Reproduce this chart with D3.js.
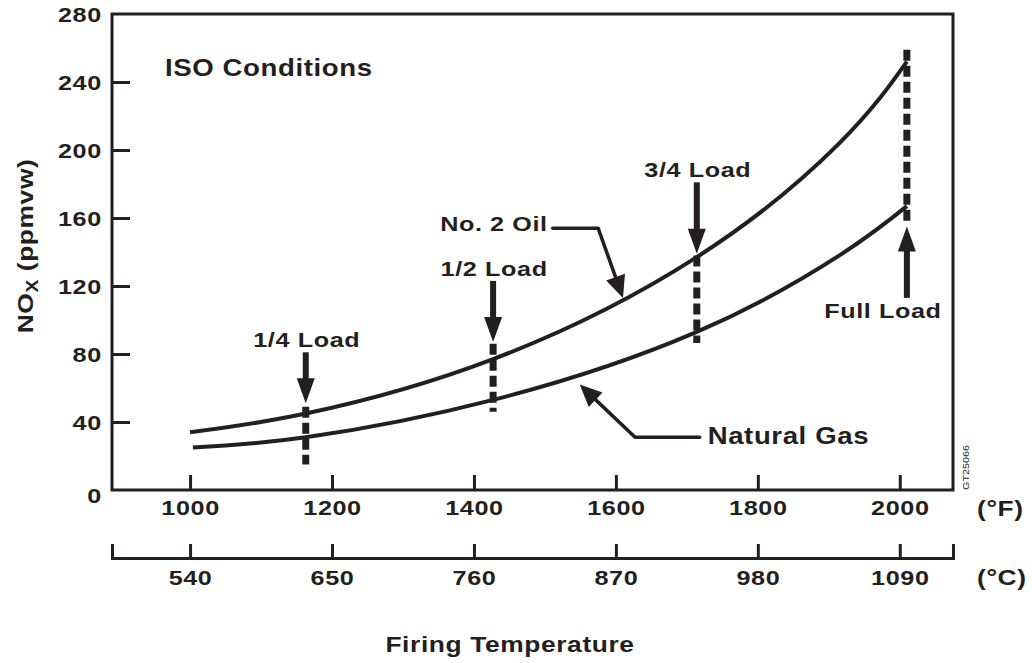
<!DOCTYPE html>
<html>
<head>
<meta charset="utf-8">
<script src="https://cdn.jsdelivr.net/npm/d3@7"></script>
<style>
  html, body { margin: 0; padding: 0; background: #fff; }
  svg { display: block; }
  text { font-family: "Liberation Sans", Arial, Helvetica, sans-serif; font-weight: bold; fill: #231f20; }
</style>
</head>
<body>
<svg id="chart" width="1032" height="663"></svg>
<script>
// NOx emissions vs. firing temperature, ISO conditions
const oilTempF   = [1000, 1163, 1427, 1714, 1915, 2010];
const oilNOx     = [34, 45, 77, 137, 204, 252];
const gasTempF   = [1004, 1163, 1427, 1714, 1915, 2010];
const gasNOx     = [25, 31, 53, 93, 138, 167];

const fTicks = [1000, 1200, 1400, 1600, 1800, 2000];
const cTicks = [540, 650, 760, 870, 980, 1090];
const yTicks = [0, 40, 80, 120, 160, 200, 240, 280];

// Load points: dashed markers, load arrows and labels (NOx units)
const loadLabels     = ["1/4 Load", "1/2 Load", "3/4 Load", "Full Load"];
const loadTempF      = [1163, 1427, 1714, 2010];
const loadDashTop    = [49, 86, 138, 259];
const loadDashBottom = [15, 46, 86.5, 157];
const loadArrowFrom  = [81, 123, 181, 113];
const loadArrowTo    = [51, 87, 139, 155];

// Fuel callouts: label, leader path (°F, NOx) ending at the arrow tip
const fuelLabels  = ["No. 2 Oil", "Natural Gas"];
const fuelLeaders = [
  [[1511, 154], [1575, 154], [1610, 113]],
  [[1718, 31], [1627, 31], [1549, 62]]
];

const ink = "#231f20";
const wide = 1.2;          // horizontal widening of the lettering
const svg = d3.select("#chart");

const plot = { left: 112, right: 953, top: 14, bottom: 490 };

const x = d3.scaleLinear().domain([890, 2075]).range([plot.left, plot.right]);
const y = d3.scaleLinear().domain([0, 280]).range([plot.bottom, plot.top]);

// Celsius scale shares the Fahrenheit tick positions
const cBase = d3.scaleLinear().domain([cTicks[0], cTicks[cTicks.length - 1]])
  .range([x(fTicks[0]), x(fTicks[fTicks.length - 1])]);
const xc = d3.scaleLinear()
  .domain([cBase.invert(plot.left), cBase.invert(plot.right)])
  .range([plot.left, plot.right]);

// Text helper: widened bold lettering anchored at (px, py)
function label(g, px, py, str, size, anchor) {
  return g.append("text")
    .attr("transform", `translate(${px},${py}) scale(${wide},1)`)
    .attr("text-anchor", anchor || "start")
    .attr("letter-spacing", "0.5px")
    .style("font-size", size + "px")
    .text(str);
}

function styleTicks(axisG) {
  axisG.selectAll(".tick line").attr("stroke", ink).attr("stroke-width", 3);
  axisG.selectAll(".tick text")
    .attr("fill", ink).style("font-size", "21px")
    .attr("letter-spacing", "0.5px")
    .attr("transform", `scale(${wide},1)`);
}

// Frame
svg.append("rect")
  .attr("x", plot.left).attr("y", plot.top)
  .attr("width", plot.right - plot.left).attr("height", plot.bottom - plot.top)
  .attr("fill", "none").attr("stroke", ink).attr("stroke-width", 3);

// Y axis (ticks point inward)
const yAxis = svg.append("g")
  .attr("transform", `translate(${plot.left},0)`)
  .call(d3.axisLeft(y).tickValues(yTicks).tickFormat(d3.format("d"))
    .tickSize(-18).tickPadding(8.5));
yAxis.select(".domain").remove();
styleTicks(yAxis);
yAxis.selectAll(".tick text").attr("dy", d => d === 0 ? "0.6em" : "0.36em");
yAxis.selectAll(".tick").filter(d => d === 0 || d === 280).select("line").remove();

// Fahrenheit axis on the frame bottom
const fAxis = svg.append("g")
  .attr("transform", `translate(0,${plot.bottom})`)
  .call(d3.axisBottom(x).tickValues(fTicks).tickFormat(d3.format("d"))
    .tickSize(-15).tickPadding(10));
fAxis.select(".domain").remove();
styleTicks(fAxis);

// Celsius axis below
const cAxis = svg.append("g")
  .attr("transform", "translate(0,558)")
  .call(d3.axisBottom(xc).tickValues(cTicks).tickFormat(d3.format("d"))
    .tickSize(-14).tickSizeOuter(-14).tickPadding(12));
cAxis.select(".domain").attr("stroke", ink).attr("stroke-width", 3).attr("fill", "none");
styleTicks(cAxis);

// Unit labels
label(svg, 977, 516, "(°F)", 22);
label(svg, 977, 585, "(°C)", 22);

// Axis titles
label(svg, 510, 652, "Firing Temperature", 22, "middle");

const yTitle = svg.append("text")
  .attr("transform", `translate(33,246) rotate(-90) scale(${wide},1)`)
  .attr("text-anchor", "middle")
  .attr("letter-spacing", "0.5px")
  .style("font-size", "22px");
yTitle.append("tspan").text("NO");
yTitle.append("tspan").attr("dy", 5).style("font-size", "16px").text("X");
yTitle.append("tspan").attr("dy", -5).text(" (ppmvw)");

// Drawing number
svg.append("text")
  .attr("transform", `translate(969,490) rotate(-90) scale(${wide},1)`)
  .style("font-size", "9px").style("font-weight", "normal").attr("fill", "#444")
  .text("GT25066");

// ISO note
label(svg, 165, 76, "ISO Conditions", 23);

// Curves
const line = d3.line()
  .x(d => x(d[0])).y(d => y(d[1]))
  .curve(d3.curveNatural);

svg.append("path")
  .datum(oilTempF.map((t, i) => [t, oilNOx[i]]))
  .attr("d", line).attr("fill", "none").attr("stroke", ink).attr("stroke-width", 4);
svg.append("path")
  .datum(gasTempF.map((t, i) => [t, gasNOx[i]]))
  .attr("d", line).attr("fill", "none").attr("stroke", ink).attr("stroke-width", 4);

// Arrow helper: shaft plus triangular head, tip at (x2,y2)
function arrow(g, x1, y1, x2, y2, headLen, headWidth, shaftWidth) {
  const dx = x2 - x1, dy = y2 - y1;
  const len = Math.hypot(dx, dy);
  const ux = dx / len, uy = dy / len;
  const bx = x2 - ux * headLen, by = y2 - uy * headLen;
  g.append("line")
    .attr("x1", x1).attr("y1", y1).attr("x2", bx + ux * 2).attr("y2", by + uy * 2)
    .attr("stroke", ink).attr("stroke-width", shaftWidth);
  const px = -uy * headWidth / 2, py = ux * headWidth / 2;
  g.append("path")
    .attr("d", `M${x2},${y2}L${bx + px},${by + py}L${bx - px},${by - py}Z`)
    .attr("fill", ink);
}

// Load markers
const loads = svg.append("g");
loadTempF.forEach((t, i) => {
  const xp = x(t);
  loads.append("line")
    .attr("x1", xp).attr("x2", xp)
    .attr("y1", y(loadDashTop[i])).attr("y2", y(loadDashBottom[i]))
    .attr("stroke", ink).attr("stroke-width", 7)
    .attr("stroke-dasharray", "11 5");
  const from = y(loadArrowFrom[i]), to = y(loadArrowTo[i]);
  arrow(loads, xp, from, xp, to, 25, 18, 6);
  const up = to < from;
  label(loads, up ? xp - 24 : xp + 1, up ? from + 20 : from - 5,
        loadLabels[i], 21, "middle");
});

// Fuel callouts
const callouts = svg.append("g");
const calloutSize = [21, 23];
const calloutDy = [3, 7];
fuelLeaders.forEach((pts, i) => {
  const p = pts.map(d => [x(d[0]), y(d[1])]);
  callouts.append("line")
    .attr("x1", p[0][0]).attr("y1", p[0][1]).attr("x2", p[1][0]).attr("y2", p[1][1])
    .attr("stroke", ink).attr("stroke-width", 3.5).attr("stroke-linecap", "round");
  arrow(callouts, p[1][0], p[1][1], p[2][0], p[2][1], 22, 20, 3.5);
  const leftSide = p[0][0] < p[1][0];
  label(callouts, leftSide ? p[0][0] - 5 : p[0][0] + 8, p[0][1] + calloutDy[i],
        fuelLabels[i], calloutSize[i], leftSide ? "end" : "start");
});
</script>
</body>
</html>
